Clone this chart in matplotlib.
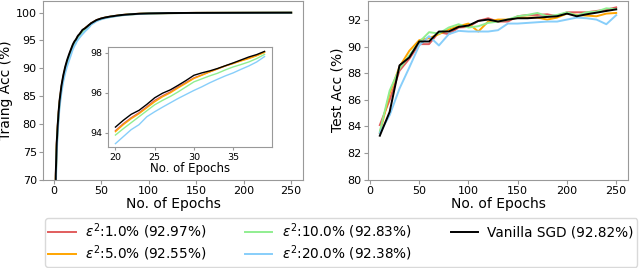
import matplotlib
matplotlib.use("Agg")
import matplotlib.pyplot as plt

# ---------------- data ----------------
labels = [r"$\epsilon^2$:1.0% (92.97%)", r"$\epsilon^2$:5.0% (92.55%)",
          r"$\epsilon^2$:10.0% (92.83%)", r"$\epsilon^2$:20.0% (92.38%)",
          "Vanilla SGD (92.82%)"]
colors = ["tab:red", "orange", "lightgreen", "lightskyblue", "black"]
alphas = [0.75, 1.0, 1.0, 1.0, 1.0]

train_epochs = [1, 2, 3, 4, 5, 6, 8, 10, 12, 14, 16, 18,
                20, 21, 22, 23, 24, 25, 26, 27, 28, 29, 30, 31, 32, 33, 34, 35, 36, 37, 38, 39,
                42, 45, 50, 55, 60, 70, 80, 90, 100, 120, 150, 200, 250]

train_eps1 = [52.0, 70.5, 76.3, 79.4, 81.9, 83.9, 86.6, 88.5, 90.0, 91.2, 92.2, 93.2,
              94.10, 94.45, 94.75, 95.00, 95.30, 95.62, 95.85, 96.05, 96.30, 96.52, 96.75, 96.90,
              97.05, 97.20, 97.35, 97.48, 97.62, 97.75, 97.88, 98.05,
              98.35, 98.65, 98.95, 99.15, 99.30, 99.55, 99.70, 99.80, 99.86, 99.92, 99.96, 99.98, 100.0]
train_eps5 = [51.5, 70.2, 76.1, 79.3, 81.8, 83.8, 86.5, 88.4, 89.9, 91.1, 92.1, 93.1,
              94.05, 94.40, 94.70, 94.95, 95.25, 95.55, 95.80, 96.00, 96.25, 96.48, 96.72, 96.88,
              97.05, 97.20, 97.35, 97.47, 97.60, 97.72, 97.86, 98.03,
              98.33, 98.63, 98.93, 99.14, 99.29, 99.54, 99.70, 99.80, 99.86, 99.92, 99.96, 99.98, 100.0]
train_eps10 = [51.0, 69.8, 75.8, 79.0, 81.6, 83.6, 86.3, 88.2, 89.7, 90.9, 91.9, 92.9,
               93.88, 94.20, 94.50, 94.80, 95.10, 95.40, 95.62, 95.82, 96.05, 96.30, 96.55, 96.70,
               96.85, 96.98, 97.15, 97.30, 97.42, 97.55, 97.72, 97.93,
               98.25, 98.57, 98.88, 99.10, 99.26, 99.52, 99.68, 99.79, 99.85, 99.91, 99.96, 99.98, 100.0]
train_eps20 = [49.0, 68.5, 74.8, 78.2, 80.9, 83.0, 85.7, 87.7, 89.2, 90.4, 91.4, 92.4,
               93.45, 93.80, 94.15, 94.40, 94.80, 95.05, 95.28, 95.50, 95.72, 95.92, 96.12, 96.30,
               96.50, 96.68, 96.85, 97.00, 97.18, 97.35, 97.55, 97.82,
               98.15, 98.48, 98.82, 99.05, 99.22, 99.49, 99.66, 99.77, 99.84, 99.91, 99.95, 99.98, 100.0]
train_sgd = [53.0, 71.0, 76.6, 79.7, 82.2, 84.2, 86.9, 88.8, 90.3, 91.5, 92.5, 93.4,
             94.28, 94.62, 94.92, 95.12, 95.42, 95.75, 95.98, 96.15, 96.38, 96.62, 96.88, 97.00,
             97.10, 97.22, 97.36, 97.50, 97.65, 97.80, 97.92, 98.08,
             98.38, 98.68, 98.97, 99.17, 99.32, 99.56, 99.71, 99.81, 99.87, 99.93, 99.96, 99.98, 100.0]

test_epochs = [10, 20, 30, 40, 50, 60, 70, 80, 90, 100, 110, 120, 130,
               140, 150, 160, 170, 180, 190, 200, 210, 220, 230, 240, 250]
test_eps1 = [84.1, 86.0, 88.2, 89.1, 90.2, 90.2, 91.1, 90.95, 91.45, 91.5, 91.95, 92.15, 91.9,
             91.9, 92.3, 92.4, 92.4, 92.45, 92.3, 92.6, 92.6, 92.6, 92.7, 92.8, 92.97]
test_eps5 = [83.5, 86.5, 88.5, 89.7, 90.5, 90.65, 90.95, 91.3, 91.55, 91.75, 91.15, 91.9, 92.05,
             92.05, 92.2, 92.2, 92.2, 92.05, 92.2, 92.5, 92.4, 92.35, 92.3, 92.5, 92.55]
test_eps10 = [83.6, 86.7, 88.35, 89.35, 90.35, 91.1, 91.0, 91.45, 91.7, 91.45, 91.55, 91.8, 91.9,
              92.05, 92.3, 92.4, 92.55, 92.3, 92.4, 92.6, 92.35, 92.6, 92.65, 92.9, 92.83]
test_eps20 = [83.5, 84.85, 86.85, 88.45, 90.1, 90.8, 90.1, 90.95, 91.2, 91.15, 91.15, 91.15, 91.25,
              91.75, 91.75, 91.8, 91.85, 91.9, 91.9, 92.05, 92.2, 92.15, 92.05, 91.7, 92.38]
test_sgd = [83.3, 85.1, 88.6, 89.2, 90.4, 90.4, 91.15, 91.15, 91.5, 91.6, 91.95, 92.05, 91.9,
            92.05, 92.15, 92.15, 92.2, 92.25, 92.3, 92.5, 92.3, 92.45, 92.57, 92.7, 92.82]

train_series = [train_eps1, train_eps5, train_eps10, train_eps20, train_sgd]
test_series = [test_eps1, test_eps5, test_eps10, test_eps20, test_sgd]

inset_start, inset_end = 20, 39

# ---------------- plot ----------------
fig = plt.figure(figsize=(6.4, 2.68), dpi=100)
ax1 = fig.add_axes([43/640, 1 - 179.5/268, 260/640, 178.5/268])
ax2 = fig.add_axes([368/640, 1 - 179.5/268, 260/640, 178.5/268])
axin = fig.add_axes([108/640, 1 - 147/268, 164/640, 100/268])

spine_c = "0.6"
tick_fs = 8
label_fs = 10

handles = []
for ys, c, a, lab in zip(train_series, colors, alphas, labels):
    h, = ax1.plot(train_epochs, ys, color=c, alpha=a, lw=1.4, label=lab)
    handles.append(h)
    idx = [i for i, e in enumerate(train_epochs) if inset_start <= e <= inset_end]
    axin.plot([train_epochs[i] for i in idx], [ys[i] for i in idx], color=c, alpha=a, lw=1.0)

for ys, c, a in zip(test_series, colors, alphas):
    ax2.plot(test_epochs, ys, color=c, alpha=a, lw=1.4)

ax1.set_ylim(70, 102.1)
ax1.set_xticks([0, 50, 100, 150, 200, 250])
ax1.set_yticks([70, 75, 80, 85, 90, 95, 100])
ax1.set_xlabel("No. of Epochs", fontsize=label_fs, labelpad=1)
ax1.set_ylabel("Traing Acc (%)", fontsize=label_fs, labelpad=2)

ax2.set_ylim(80, 93.45)
ax2.set_xticks([0, 50, 100, 150, 200, 250])
ax2.set_yticks([80, 82, 84, 86, 88, 90, 92])
ax2.set_xlabel("No. of Epochs", fontsize=label_fs, labelpad=1)
ax2.set_ylabel("Test Acc (%)", fontsize=label_fs, labelpad=2)

axin.set_xlim(19.05, 39.95)
axin.set_ylim(93.28, 98.3)
axin.set_xticks([20, 25, 30, 35])
axin.set_yticks([94, 96, 98])
axin.set_xlabel("No. of Epochs", fontsize=8.5, labelpad=0)
axin.tick_params(labelsize=6.8, length=2.5, pad=1.5, color=spine_c)

for ax in (ax1, ax2):
    ax.tick_params(labelsize=tick_fs, length=3, pad=1.5, color=spine_c)
for ax in (ax1, ax2, axin):
    for s in ax.spines.values():
        s.set_color(spine_c)

fig.legend(handles=handles, ncol=3, fontsize=9.8, loc="lower left",
           bbox_to_anchor=(45/640, 1.5/268), borderaxespad=0,
           handlelength=2.0, handletextpad=0.7, columnspacing=2.85, labelspacing=0.15,
           borderpad=0.25, framealpha=1.0, edgecolor="0.85")

fig.savefig("out.png", dpi=100)
